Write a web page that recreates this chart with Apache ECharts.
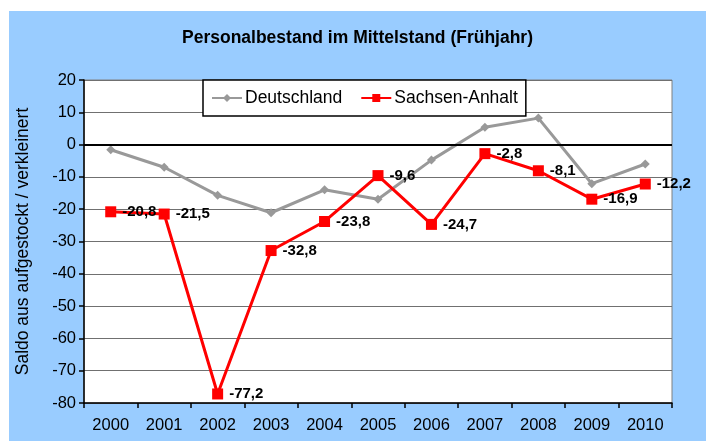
<!DOCTYPE html>
<html>
<head>
<meta charset="utf-8">
<script src="https://cdn.jsdelivr.net/npm/echarts@6/dist/echarts.min.js"></script>
<style>
html, body { margin: 0; padding: 0; background: #fff; }
#main { position: absolute; left: 9px; top: 11px; width: 697px; height: 430px; background: #99CCFF; }
</style>
</head>
<body>
<div id="main"></div>
<script>
var years = ['2000', '2001', '2002', '2003', '2004', '2005', '2006', '2007', '2008', '2009', '2010']
var deutschland = [-1.6, -7.0, -15.7, -21.1, -14.0, -16.9, -4.8, 5.4, 8.2, -12.1, -6.0]
var sachsenAnhalt = [-20.8, -21.5, -77.2, -32.8, -23.8, -9.6, -24.7, -2.8, -8.1, -16.9, -12.2]

var myChart = echarts.init(document.getElementById('main'))

var option = {
	animation : false,
	title : {
		text : 'Personalbestand im Mittelstand (Frühjahr)',
		left : 'center',
		top : 13,
		textStyle : {
			fontFamily : 'Liberation Sans, Arial',
			fontSize : 17.5,
			fontWeight : 'bold',
			color : '#000'
		}
	},
	grid : {
		left : 75,
		right : 34,
		top : 69,
		bottom : 38,
		outerBoundsMode : 'none',
		containLabel : false,
		show : true,
		backgroundColor : '#fff',
		borderColor : '#808080',
		borderWidth : 1
	},
	legend : {
		left : 194,
		top : 69,
		padding : [9, 8, 9, 8],
		backgroundColor : '#fff',
		borderColor : '#000',
		borderWidth : 1.5,
		itemWidth : 30,
		itemHeight : 10,
		itemGap : 18,
		textStyle : {
			fontFamily : 'Liberation Sans, Arial',
			fontSize : 17.5,
			color : '#000',
			padding : [0, 0, 0, -2]
		},
		data : ['Deutschland', 'Sachsen-Anhalt']
	},
	xAxis : {
		type : 'category',
		data : years,
		boundaryGap : true,
		axisLine : { onZero : false, lineStyle : { color : '#000', width : 1.5 } },
		axisTick : { show : true, length : 5, inside : false, lineStyle : { color : '#000', width : 1.5 } },
		axisLabel : {
			fontFamily : 'Liberation Sans, Arial',
			fontSize : 16.5,
			color : '#000',
			margin : 14
		},
		splitLine : { show : false }
	},
	yAxis : {
		type : 'value',
		min : -80,
		max : 20,
		interval : 10,
		name : 'Saldo aus aufgestockt / verkleinert',
		nameLocation : 'middle',
		nameGap : 52,
		nameTextStyle : {
			fontFamily : 'Liberation Sans, Arial',
			fontSize : 17.5,
			color : '#000'
		},
		axisLine : { show : true, lineStyle : { color : '#000', width : 1.5 } },
		axisTick : { show : true, length : 5, lineStyle : { color : '#000', width : 1.5 } },
		axisLabel : {
			fontFamily : 'Liberation Sans, Arial',
			fontSize : 16.5,
			color : '#000',
			margin : 8
		},
		splitLine : { show : true, lineStyle : { color : '#707070', width : 1 } }
	},
	series : [ {
		name : 'Deutschland',
		type : 'line',
		data : deutschland,
		symbol : 'diamond',
		symbolSize : 9,
		color : '#999999',
		lineStyle : { width : 3, color : '#999999' },
		itemStyle : { color : '#999999' },
		z : 2
	}, {
		name : 'Sachsen-Anhalt',
		type : 'line',
		data : sachsenAnhalt,
		symbol : 'rect',
		symbolSize : 11,
		color : '#FF0000',
		lineStyle : { width : 3, color : '#FF0000' },
		itemStyle : { color : '#FF0000' },
		label : {
			show : true,
			position : 'right',
			distance : 6,
			fontFamily : 'Liberation Sans, Arial',
			fontSize : 15,
			fontWeight : 'bold',
			color : '#000',
			formatter : function(p) {
				return String(p.value).replace('.', ',')
			}
		},
		markLine : {
			silent : true,
			symbol : 'none',
			label : { show : false },
			lineStyle : { color : '#000', width : 2, type : 'solid' },
			data : [ { yAxis : 0 } ]
		},
		z : 3
	} ]
}
myChart.setOption(option)
</script>
</body>
</html>
